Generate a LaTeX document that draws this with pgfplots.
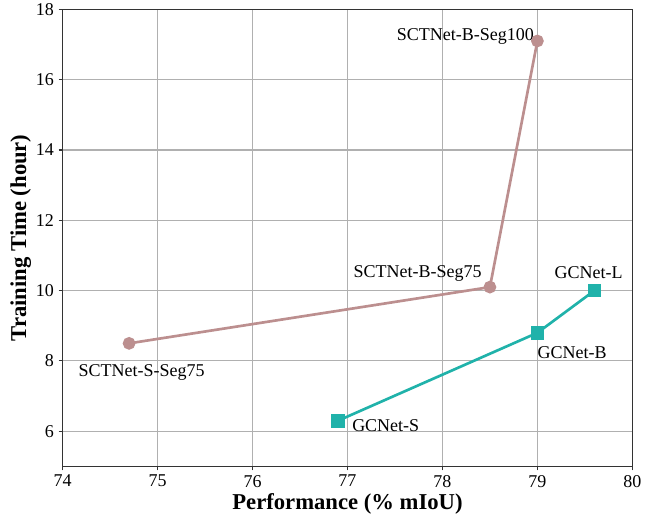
\documentclass[border=0pt]{standalone}
\usepackage{pgfplots}
\pgfplotsset{compat=1.18}
\usepackage{fontspec}
\setmainfont{Liberation Serif}
\definecolor{sct}{RGB}{188,143,143}
\definecolor{gcn}{RGB}{32,178,170}
\begin{document}
\begin{tikzpicture}
  \begin{axis}[
      width=427.5pt, height=343pt, scale only axis,
      xmin=74, xmax=80, ymin=5, ymax=18,
      xtick={74,...,80}, ytick={6,8,...,18},
      xlabel={\textbf{Performance (\% mIoU)}},
      ylabel={\textbf{Training Time (hour)}},
      label style={font=\fontsize{17}{19}\selectfont},
      xlabel style={at={(axis description cs:0.5,-0.083)}, anchor=center},
      ylabel style={at={(axis description cs:-0.0737,0.5)}, anchor=center},
      tick label style={font=\fontsize{13.5}{15}\selectfont},
      /pgf/number format/assume math mode=true,
      grid=major, grid style={color={rgb,255:red,176;green,176;blue,176}, line width=0.8pt},
      tick align=outside, tick pos=left,
      major tick length=3pt,
      axis line style={line width=1pt, black!80},
      every tick/.style={black!80, line width=0.8pt},
    ]
    \addplot[sct, line width=2pt, mark=*, mark size=3.75pt] coordinates {
      (74.7,8.5) (78.5,10.1) (79.0,17.1)
    };
    \addplot[gcn, line width=2pt, mark=square*, mark size=4.1pt] coordinates {
      (76.9,6.3) (79.0,8.8) (79.6,10.0)
    };
    \begin{scope}[font=\fontsize{13.5}{15}\selectfont, inner sep=0pt]
    \node[anchor=base east, xshift=-2.5pt] at (axis cs:79.0,17.1) {SCTNet-B-Seg100};
    \node[anchor=base east, xshift=-6pt, yshift=7pt] at (axis cs:78.5,10.1) {SCTNet-B-Seg75};
    \node[anchor=base west, xshift=-38pt, yshift=-25pt] at (axis cs:74.7,8.5) {SCTNet-S-Seg75};
    \node[anchor=base west, xshift=-30pt, yshift=9pt] at (axis cs:79.6,10.0) {GCNet-L};
    \node[anchor=base west, yshift=-19pt] at (axis cs:79.0,8.8) {GCNet-B};
    \node[anchor=base west, xshift=10.5pt, yshift=-8.25pt] at (axis cs:76.9,6.3) {GCNet-S};
    \end{scope}
  \end{axis}
  \pgfresetboundingbox
  \useasboundingbox (-47pt,-37.5pt) rectangle (440pt,350pt);
\end{tikzpicture}
\end{document}
